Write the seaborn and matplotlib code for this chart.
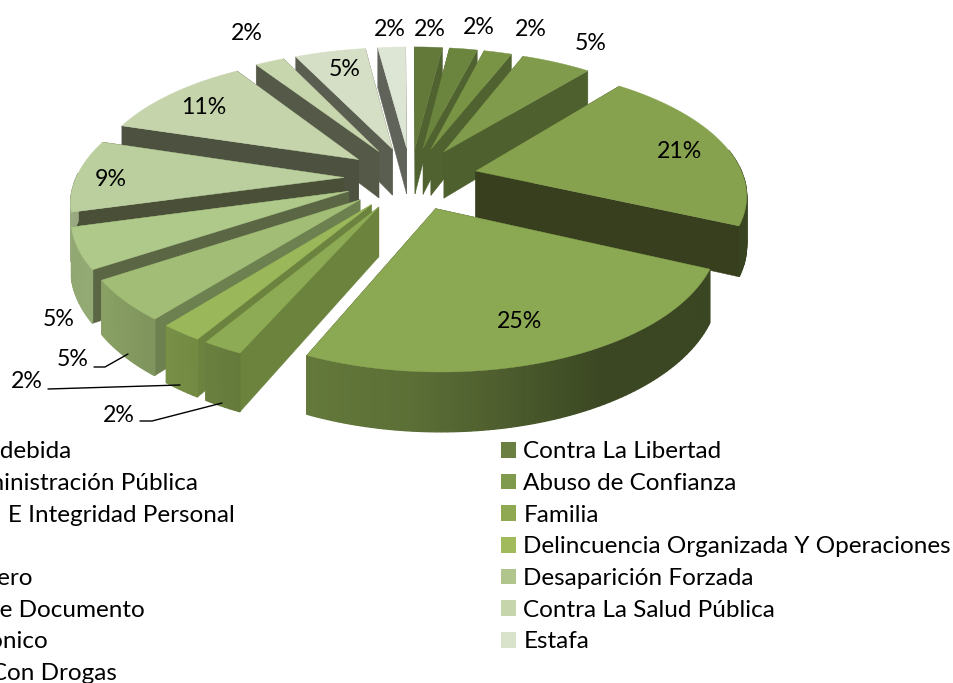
import numpy as np
import seaborn as sns
import matplotlib.pyplot as plt
from matplotlib.patches import Patch
from matplotlib.colors import to_rgb

categorias = ['Apropiación Indebida', 'Contra La Administración Pública', 'Contra la Vida  E Integridad Personal',
              'Homicidio', 'Lavado de Dinero', 'Falsificación De Documento', 'Crimen Electrónico',
              'Relacionados Con Drogas', 'Contra La Libertad', 'Abuso de Confianza', 'Familia',
              'Delincuencia Organizada Y Operaciones', 'Desaparición Forzada', 'Contra La Salud Pública', 'Estafa']
# clockwise from 12 o'clock, as the slices are drawn
valores = [2.0, 2.0, 2.0, 5.0, 20.8, 24.85, 2.0, 2.1, 5.0, 5.0, 9.0, 10.95, 2.1, 5.1, 2.0]
col_sup = ['#62793a', '#6c853e', '#7a9446', '#809b4b', '#86a24e', '#8ba852', '#8dab54', '#9ab85a',
           '#a2bd76', '#afc98a', '#bacf9d', '#c5d4ab', '#c8d6ae', '#d5dfc5', '#dde6d4']
col_lado = ['#4f6230', '#4f6230', '#4f622f', '#4f602f', '#373f1e', '#373f1e', '#6c833d', '#6c8340',
            '#6c8050', '#5a6644', '#4a5038', '#4d5240', '#555a48', '#5a5e50', '#60635a']
col_leyenda = ['#4a5a2a', '#566832', '#62793a', '#6c853e', '#7a9446', '#86a24e', '#8ba852', '#8dab54',
               '#6b7f42', '#7f9a4d', '#8fa953', '#a0ba5c', '#afc58b', '#c7d5ac', '#d9e3cc']
etiquetas_xy = [(430, 29), (479, 27), (531, 29), (591, 44), (680, 152), (520, 322), (119, 415), (27, 382),
                (73, 360), (59, 320), (111, 180), (204, 108), (247, 34), (345, 69), (390, 29)]

sns.set_theme(style='white')
plt.rcParams['font.family'] = ['Lato', 'DejaVu Sans']

# perspective of the pie plane, in figure pixels
cx, cy, rx, ry, p, alto, expl = 411, 178, 268, 126, 0.161, 48, 0.25


def proy(X, Y, z=0):
    w = 1 - p * Y
    return cx + rx * X / w, cy + ry * Y / w + z / w


fig = plt.figure(figsize=(9.54, 6.83), dpi=100)
ax = fig.add_axes([0, 0, 1, 1])
ax.set_xlim(0, 954)
ax.set_ylim(683, 0)
ax.axis('off')

acum = np.cumsum([0] + valores) * 3.6
orden = sorted(range(len(valores)), key=lambda i: -np.cos(np.radians((acum[i] + acum[i + 1]) / 2)))
for i in orden:
    a0, a1 = acum[i], acum[i + 1]
    med = np.radians((a0 + a1) / 2)
    ox, oy = expl * np.sin(med), -expl * np.cos(med)
    ang = np.radians(np.linspace(a0, a1, max(int(a1 - a0), 4) + 1))
    Xr, Yr = ox + np.sin(ang), oy - np.cos(ang)
    xt, yt = proy(Xr, Yr)
    xb, yb = proy(Xr, Yr, alto)
    ax_t, ay_t = proy(ox, oy)
    ax_b, ay_b = proy(ox, oy, alto)
    # radial faces first, the rim covers what is behind it
    for k in (0, -1):
        ax.fill([ax_t, xt[k], xb[k], ax_b], [ay_t, yt[k], yb[k], ay_b], color=col_lado[i], lw=0.3)
    base = np.array(to_rgb(col_sup[i]))
    for k in range(len(ang) - 1):
        m = np.degrees((ang[k] + ang[k + 1]) / 2)
        if m < 80 or m > 272:  # back of the rim is not seen
            continue
        f = np.interp(m, [40, 115, 150, 185, 205, 235, 290], [0.5, 0.42, 0.42, 0.66, 0.72, 0.85, 0.8])
        ax.fill([xt[k], xt[k + 1], xb[k + 1], xb[k]], [yt[k], yt[k + 1], yb[k + 1], yb[k]],
                color=base * f, lw=0.9)
    ax.fill(np.r_[ax_t, xt], np.r_[ay_t, yt], color=col_sup[i], lw=0.3)

for v, (x, y) in zip(valores, etiquetas_xy):
    ax.text(x, y, f'{v:.0f}%', fontsize=16.7, color='black', ha='center', va='center')

# leader lines of the four low labels
ax.plot([94, 105, 128], [367, 367, 354], color='black', lw=1)
ax.plot([48, 180], [389, 385], color='black', lw=1)
ax.plot([140, 152, 222], [421, 421, 403], color='black', lw=1)

handles = [Patch(facecolor=c, edgecolor='none') for c in col_leyenda]
fig.legend(handles, categorias, ncols=2, frameon=False, fontsize=17.45, labelcolor='black',
           loc='upper right', bbox_to_anchor=(951 / 954, 1 - 441.5 / 683), borderaxespad=0, borderpad=0,
           handlelength=0.62, handleheight=0.62, handletextpad=0.29, labelspacing=0.44, columnspacing=11.0)

fig.savefig('out.png', dpi=100)
